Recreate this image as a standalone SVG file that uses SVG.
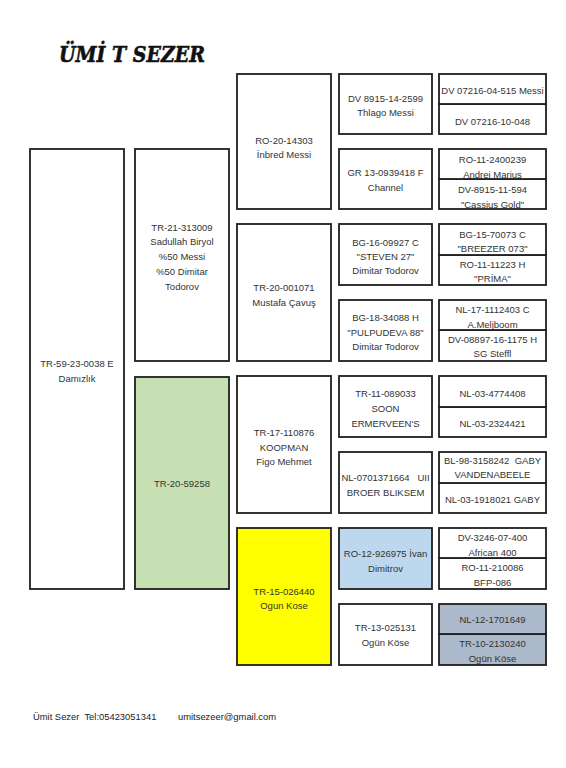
<svg xmlns="http://www.w3.org/2000/svg" width="566" height="768" viewBox="0 0 566 768">
<style>
.b{fill:#fff;stroke:#1e1e1e;stroke-width:1.8}
.t{font-family:"Liberation Sans",Arial,sans-serif;font-size:9.5px;fill:#333;text-anchor:middle}
.f{font-family:"Liberation Sans",Arial,sans-serif;font-size:9.4px;fill:#222}
</style>
<rect width="566" height="768" fill="#fff"/>
<text x="59" y="62" font-family="'DejaVu Serif',serif" font-weight="900" font-style="italic" font-size="23" fill="#111" stroke="#111" stroke-width="0.6" textLength="146" lengthAdjust="spacingAndGlyphs">ÜMİ T SEZER</text>

<g id="n-col1"><rect class="b" x="30" y="149" width="94" height="440"/>
<text class="t" x="77" y="367">TR-59-23-0038 E</text><text class="t" x="77" y="382">Damızlık</text></g>

<g id="n-col2a"><rect class="b" x="135" y="149" width="94" height="212"/>
<text class="t" x="182" y="231">TR-21-313009</text><text class="t" x="182" y="245">Sadullah Biryol</text><text class="t" x="182" y="260">%50 Messi</text><text class="t" x="182" y="275">%50 Dimitar</text><text class="t" x="182" y="290">Todorov</text></g>
<g id="n-col2b"><rect class="b" x="135" y="377" width="94" height="212" style="fill:#c6e0b4"/>
<text class="t" x="182" y="487">TR-20-59258</text></g>

<g id="n-c3a"><rect class="b" x="237" y="74" width="94" height="135"/>
<text class="t" x="284" y="144">RO-20-14303</text><text class="t" x="284" y="158">İnbred Messi</text></g>
<g id="n-c3b"><rect class="b" x="237" y="224" width="94" height="137"/>
<text class="t" x="284" y="291">TR-20-001071</text><text class="t" x="284" y="306">Mustafa Çavuş</text></g>
<g id="n-c3c"><rect class="b" x="237" y="376" width="94" height="137"/>
<text class="t" x="284" y="436">TR-17-110876</text><text class="t" x="284" y="451">KOOPMAN</text><text class="t" x="284" y="465">Figo Mehmet</text></g>
<g id="n-c3d"><rect class="b" x="237" y="528" width="94" height="137" style="fill:#ffff00"/>
<text class="t" x="284" y="595">TR-15-026440</text><text class="t" x="284" y="609">Ogun Kose</text></g>

<g id="n-c4a"><rect class="b" x="339" y="74" width="93" height="60"/>
<text class="t" x="385.5" y="102">DV 8915-14-2599</text><text class="t" x="385.5" y="116">Thlago Messi</text></g>
<g id="n-c4b"><rect class="b" x="339" y="149" width="93" height="60"/>
<text class="t" x="385.5" y="176">GR 13-0939418 F</text><text class="t" x="385.5" y="191">Channel</text></g>
<g id="n-c4c"><rect class="b" x="339" y="224" width="93" height="61"/>
<text class="t" x="385.5" y="246">BG-16-09927 C</text><text class="t" x="385.5" y="260">"STEVEN 27"</text><text class="t" x="385.5" y="274">Dimitar Todorov</text></g>
<g id="n-c4d"><rect class="b" x="339" y="300" width="93" height="61"/>
<text class="t" x="385.5" y="321">BG-18-34088 H</text><text class="t" x="385.5" y="336">"PULPUDEVA 88"</text><text class="t" x="385.5" y="350">Dimitar Todorov</text></g>
<g id="n-c4e"><rect class="b" x="339" y="376" width="93" height="61"/>
<text class="t" x="385.5" y="397">TR-11-089033</text><text class="t" x="385.5" y="412">SOON</text><text class="t" x="385.5" y="427">ERMERVEEN'S</text></g>
<g id="n-c4f"><rect class="b" x="339" y="452" width="93" height="61"/>
<text class="t" x="385.5" y="481" xml:space="preserve">NL-0701371664   UII</text><text class="t" x="385.5" y="496">BROER BLIKSEM</text></g>
<g id="n-c4g"><rect class="b" x="339" y="528" width="93" height="61" style="fill:#bdd7ee"/>
<text class="t" x="385.5" y="557">RO-12-926975 İvan</text><text class="t" x="385.5" y="572">Dimitrov</text></g>
<g id="n-c4h"><rect class="b" x="339" y="604" width="93" height="61"/>
<text class="t" x="385.5" y="631">TR-13-025131</text><text class="t" x="385.5" y="646">Ogün Köse</text></g>

<g id="n-c5a2"><rect class="b" x="439" y="104" width="107" height="30"/><text class="t" x="492.5" y="125">DV 07216-10-048</text></g>
<g id="n-c5a1"><rect class="b" x="439" y="74" width="107" height="30"/><text class="t" x="492.5" y="94">DV 07216-04-515 Messi</text></g>
<g id="n-c5b2"><rect class="b" x="439" y="179" width="107" height="30"/><text class="t" x="492.5" y="193">DV-8915-11-594</text><text class="t" x="492.5" y="207.5">"Cassius Gold"</text></g>
<g id="n-c5b1"><rect class="b" x="439" y="149" width="107" height="30"/><text class="t" x="492.5" y="163">RO-11-2400239</text><text class="t" x="492.5" y="177.5">Andrei Marius</text></g>
<g id="n-c5c2"><rect class="b" x="439" y="255" width="107" height="30"/><text class="t" x="492.5" y="268">RO-11-11223 H</text><text class="t" x="492.5" y="282">"PRİMA"</text></g>
<g id="n-c5c1"><rect class="b" x="439" y="224" width="107" height="31"/><text class="t" x="492.5" y="238">BG-15-70073 C</text><text class="t" x="492.5" y="252">"BREEZER 073"</text></g>
<g id="n-c5d2"><rect class="b" x="439" y="330" width="107" height="31"/><text class="t" x="492.5" y="343">DV-08897-16-1175 H</text><text class="t" x="492.5" y="357">SG Steffl</text></g>
<g id="n-c5d1"><rect class="b" x="439" y="300" width="107" height="30"/><text class="t" x="492.5" y="313">NL-17-1112403 C</text><text class="t" x="492.5" y="327.5">A.Meljboom</text></g>
<g id="n-c5e2"><rect class="b" x="439" y="407" width="107" height="30"/><text class="t" x="492.5" y="427">NL-03-2324421</text></g>
<g id="n-c5e1"><rect class="b" x="439" y="376" width="107" height="31"/><text class="t" x="492.5" y="397">NL-03-4774408</text></g>
<g id="n-c5f2"><rect class="b" x="439" y="483" width="107" height="30"/><text class="t" x="492.5" y="503">NL-03-1918021 GABY</text></g>
<g id="n-c5f1"><rect class="b" x="439" y="452" width="107" height="31"/><text class="t" x="492.5" y="464" xml:space="preserve">BL-98-3158242  GABY</text><text class="t" x="492.5" y="478">VANDENABEELE</text></g>
<g id="n-c5g2"><rect class="b" x="439" y="558" width="107" height="31"/><text class="t" x="492.5" y="571">RO-11-210086</text><text class="t" x="492.5" y="586">BFP-086</text></g>
<g id="n-c5g1"><rect class="b" x="439" y="528" width="107" height="30"/><text class="t" x="492.5" y="541">DV-3246-07-400</text><text class="t" x="492.5" y="555.5">African 400</text></g>
<g id="n-c5h2"><rect class="b" x="439" y="634" width="107" height="31" style="fill:#acb9ca"/><text class="t" x="492.5" y="647">TR-10-2130240</text><text class="t" x="492.5" y="662">Ogün Köse</text></g>
<g id="n-c5h1"><rect class="b" x="439" y="604" width="107" height="30" style="fill:#acb9ca"/><text class="t" x="492.5" y="623">NL-12-1701649</text></g>

<g id="connectors"></g>

<g id="footer">
<text class="f" x="33" y="720" xml:space="preserve">Ümit Sezer  Tel:05423051341</text>
<text class="f" x="178" y="720">umitsezeer@gmail.com</text>
</g>
</svg>
